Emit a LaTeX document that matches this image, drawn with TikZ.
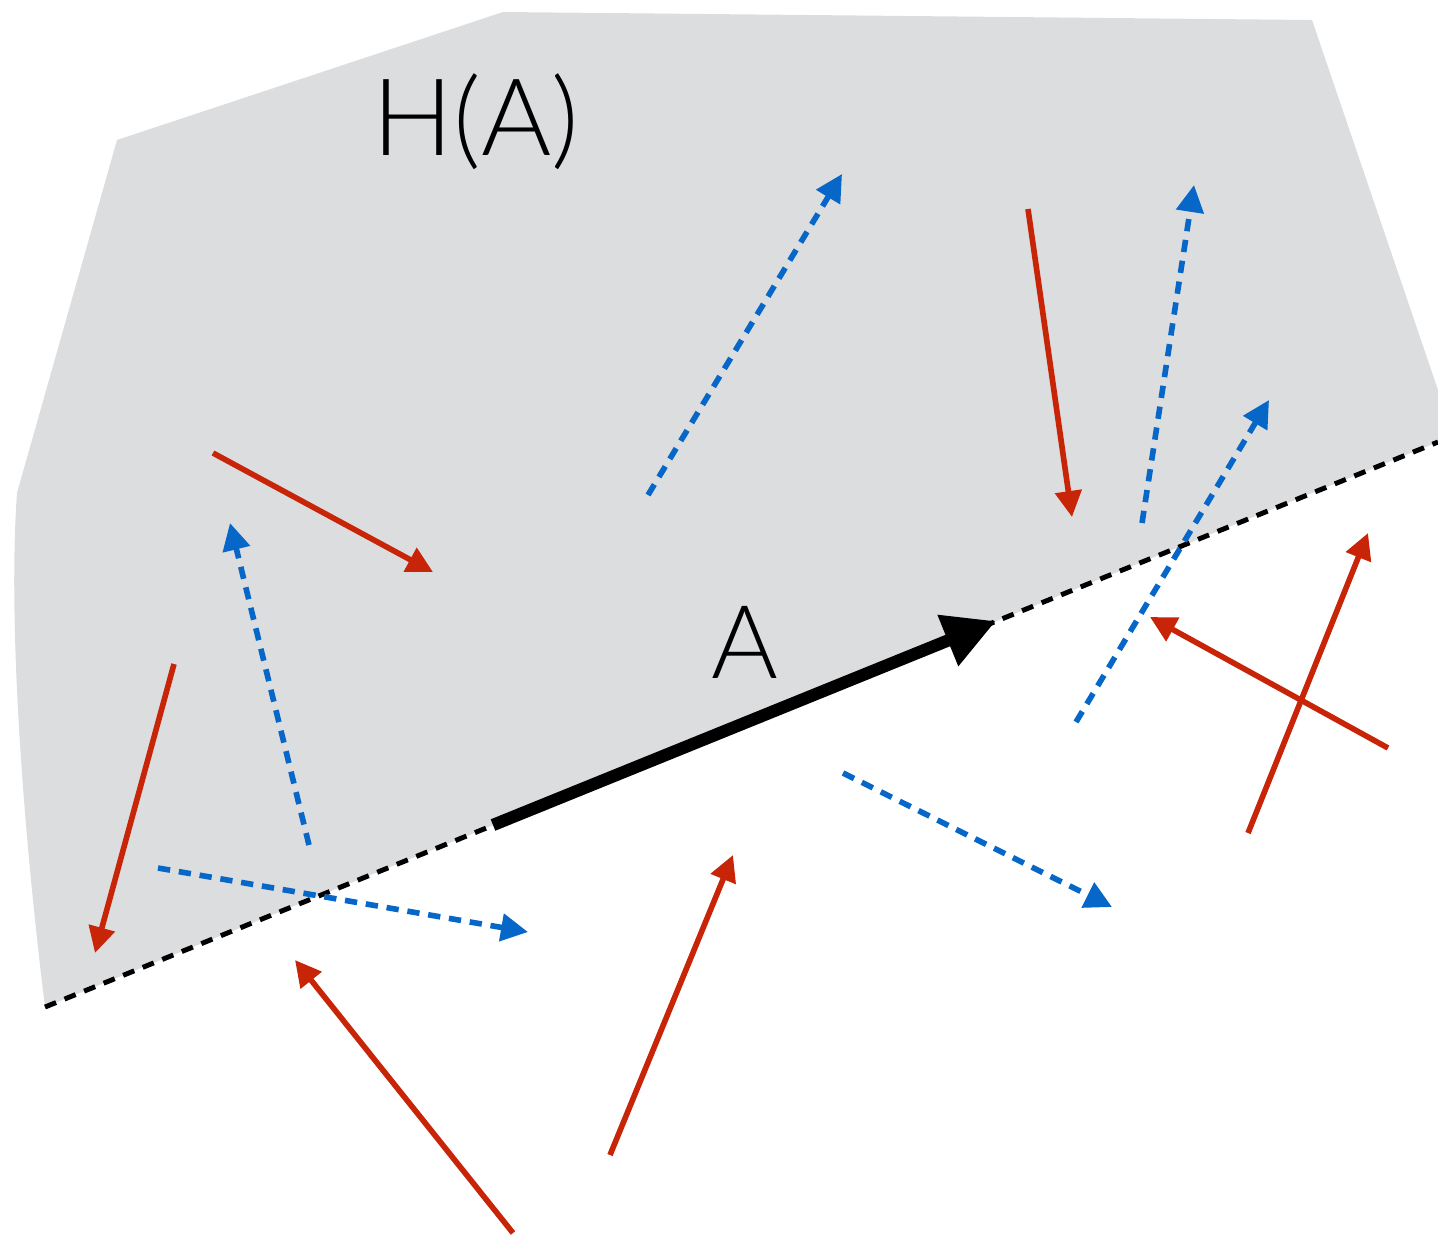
\documentclass[tikz,border=0pt]{standalone}
\usepackage{fontspec}
\setmainfont{Lato}[UprightFont=* Light]
\usetikzlibrary{arrows.meta}
\definecolor{halfgray}{RGB}{220,221,223}
\definecolor{inred}{RGB}{200,37,8}
\definecolor{outblue}{RGB}{6,103,200}

\begin{document}
\begin{tikzpicture}[
  x=1cm, y=-1cm,
  redarrow/.style={draw=inred, line width=1.6pt, -{Triangle[length=0.26cm, width=0.26cm]}},
  bluearrow/.style={draw=outblue, line width=1.6pt, dash pattern=on 3.5pt off 2.5pt, -{Triangle[length=0.27cm, width=0.27cm]}},
  boundary/.style={draw=black, line width=1.4pt, dash pattern=on 3.4pt off 2.6pt},
  tag/.style={inner sep=0pt, anchor=base},
]
  \useasboundingbox (0,0) rectangle (14.38,12.35);

  \fill[halfgray] (5.03,0.12) -- (13.12,0.20) -- (14.38,3.90) -- (14.38,4.42) -- (0.45,10.07)
    .. controls (0.22,8.2) and (0.08,6.2) .. (0.17,4.93) -- (1.17,1.40) -- cycle;

  \coordinate (lineL) at (0.45,10.07);
  \coordinate (lineR) at (14.38,4.42);
  \coordinate (A0) at (4.93,8.25);
  \coordinate (A1) at (9.96,6.21);
  \draw[boundary] (lineL) -- (lineR);
  \draw[line width=3.5pt, -{Triangle[length=0.52cm, width=0.52cm]}] (A0) -- (A1);

  \node[tag, font=\fontsize{30.5}{32}\selectfont] (hA) at (4.76,1.55) {H(A)};
  \node[tag, font=\fontsize{29}{31}\selectfont] (lA) at (7.45,6.78) {A};

  \draw[redarrow] (2.13,4.53) -- (4.33,5.72);
  \draw[redarrow] (1.74,6.64) -- (0.95,9.53);
  \draw[redarrow] (10.28,2.09) -- (10.72,5.17);
  \draw[redarrow] (5.13,12.33) -- (2.95,9.60);
  \draw[redarrow] (6.10,11.55) -- (7.33,8.55);
  \draw[redarrow] (12.48,8.33) -- (13.68,5.33);
  \draw[redarrow] (13.88,7.48) -- (11.50,6.17);

  \draw[bluearrow] (6.48,4.95) -- (8.42,1.74);
  \draw[bluearrow] (3.09,8.45) -- (2.30,5.23);
  \draw[bluearrow] (1.58,8.68) -- (5.28,9.32);
  \draw[bluearrow] (11.42,5.23) -- (11.94,1.85);
  \draw[bluearrow] (10.76,7.22) -- (12.69,4.00);
  \draw[bluearrow] (8.43,7.73) -- (11.12,9.07);
\end{tikzpicture}
\end{document}
